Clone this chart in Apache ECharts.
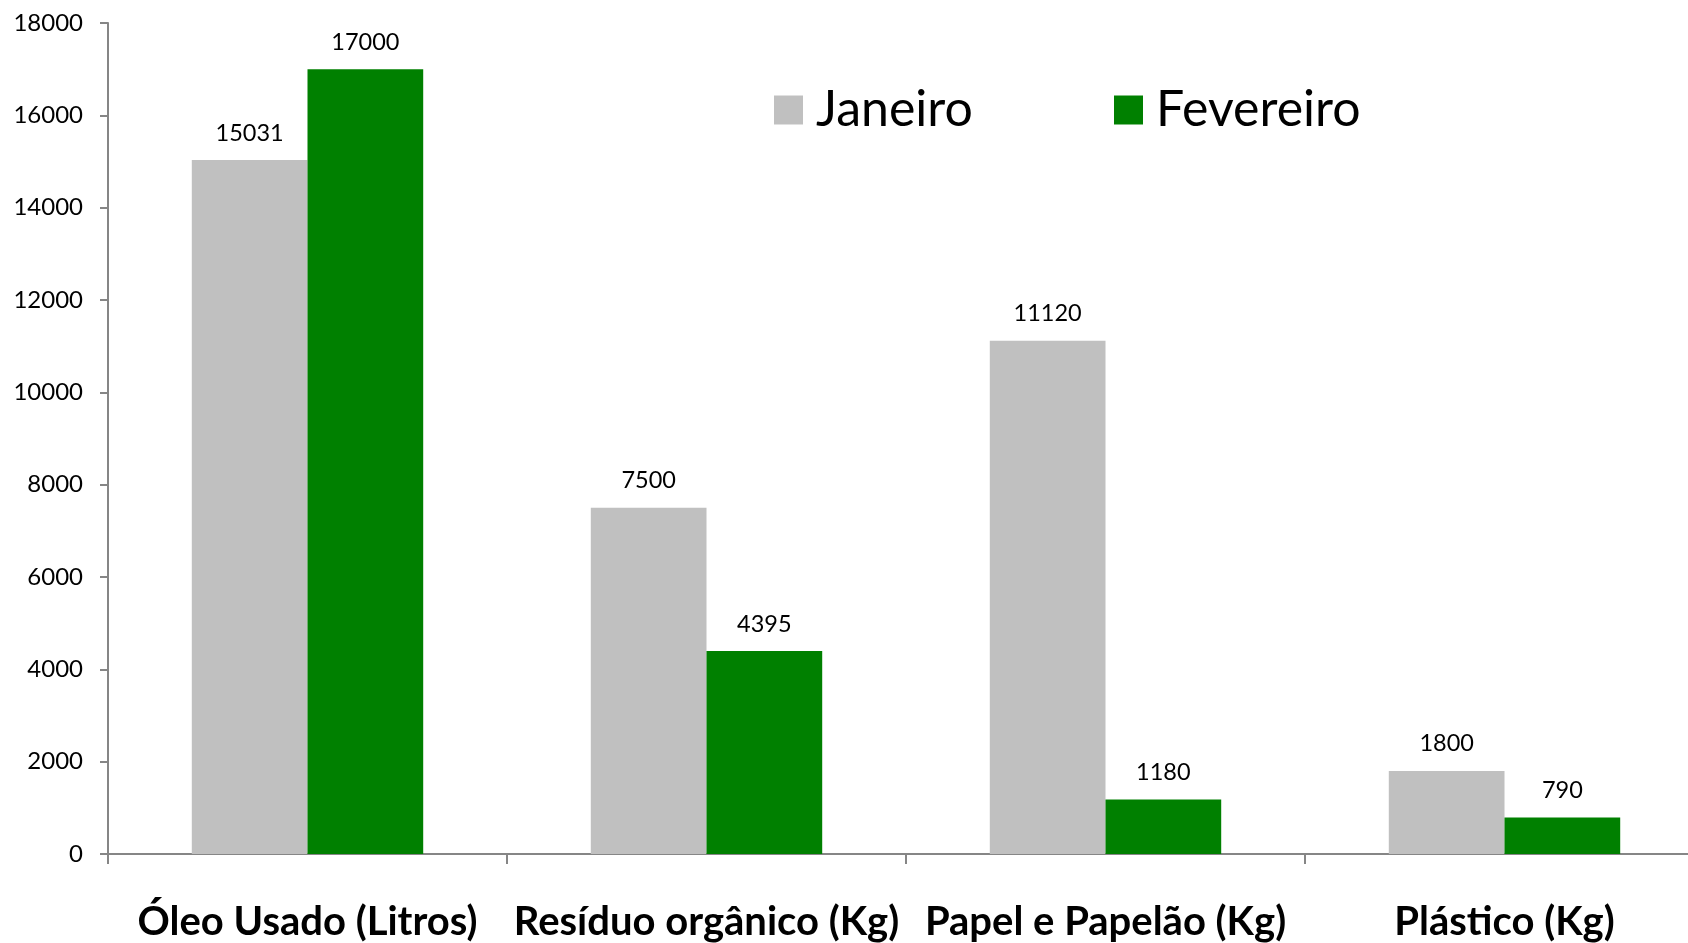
<!DOCTYPE html>
<html>
<head>
<meta charset="utf-8">
<script src="https://cdn.jsdelivr.net/npm/echarts@6/dist/echarts.min.js"></script>
<style>
html, body { margin: 0; padding: 0; background: #ffffff; }
#grafico { width: 1688px; height: 943px; }
</style>
</head>
<body>
<div id="grafico"></div>
<script>
// dados
var categorias = ['Óleo Usado (Litros)', 'Resíduo orgânico (Kg)', 'Papel e Papelão (Kg)', 'Plástico (Kg)'];
var janeiro = [15031, 7500, 11120, 1800];
var fevereiro = [17000, 4395, 1180, 790];
var eixoY = { min: 0, max: 18000, intervalo: 2000 };

var fonte = 'Lato, "Open Sans", sans-serif';
var cinzaEixo = '#868686';

function legenda(nome, x) {
    return {
        left: x, top: 85, padding: 0,
        itemWidth: 29, itemHeight: 29,
        icon: 'rect',
        textStyle: { fontFamily: fonte, fontSize: 50, color: '#000', padding: [0, 0, 0, 8] },
        data: [nome]
    };
}

var myChart = echarts.init(document.getElementById('grafico'));
myChart.setOption({
    animation: false,
    color: ['#c0c0c0', '#008000'],
    legend: [legenda('Janeiro', 774), legenda('Fevereiro', 1114)],
    // o eixo continua além da borda direita
    grid: { left: 108, top: 23, width: 1596, height: 831, containLabel: false, outerBoundsMode: 'none' },
    xAxis: {
        type: 'category',
        data: categorias,
        axisLine: { lineStyle: { color: cinzaEixo, width: 2 } },
        axisTick: { show: true, alignWithLabel: false, length: 10, lineStyle: { color: cinzaEixo, width: 2 } },
        axisLabel: {
            interval: 0,
            margin: 48,
            fontFamily: fonte, fontSize: 40, fontWeight: 'bold', color: '#000'
        }
    },
    yAxis: {
        type: 'value',
        min: eixoY.min,
        max: eixoY.max,
        interval: eixoY.intervalo,
        splitLine: { show: false },
        axisLine: { show: true, lineStyle: { color: cinzaEixo, width: 2 } },
        axisTick: { show: true, length: 8, lineStyle: { color: cinzaEixo, width: 2 } },
        axisLabel: {
            margin: 25, fontFamily: fonte, fontSize: 24, color: '#000',
            formatter: function (v) { return String(v); }
        }
    },
    series: [
        {
            name: 'Janeiro',
            type: 'bar',
            data: janeiro,
            barGap: '0%',
            barCategoryGap: '42%',
            label: { show: true, position: 'top', distance: 15, fontFamily: fonte, fontSize: 23.5, color: '#000' }
        },
        {
            name: 'Fevereiro',
            type: 'bar',
            data: fevereiro,
            label: { show: true, position: 'top', distance: 15, fontFamily: fonte, fontSize: 23.5, color: '#000' }
        }
    ]
});
</script>
</body>
</html>
